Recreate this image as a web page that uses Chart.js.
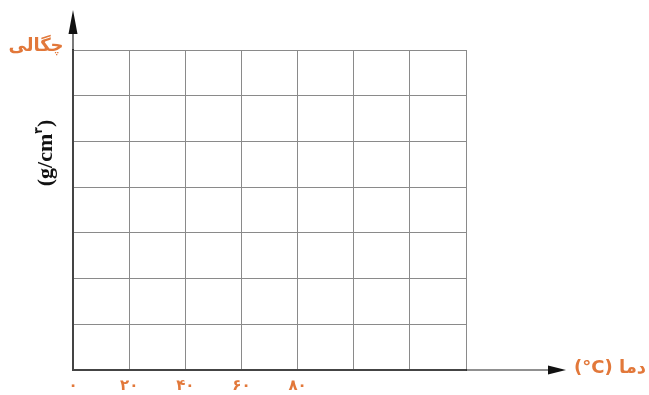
<!DOCTYPE html>
<html lang="fa">
<head>
    <meta charset="UTF-8">
    <title>Density vs temperature</title>
    <script src="https://cdn.jsdelivr.net/npm/chart.js@4.4.1/dist/chart.umd.min.js"></script>
    <style>
        html, body { margin: 0; padding: 0; background: #fff; }
        #wrap { width: 649px; height: 395px; }
    </style>
</head>
<body>
<div id="wrap">
    <canvas id="myChart" width="649" height="395"></canvas>
</div>
<script>
    // empty grid chart: only axes and labels
    var xLabelTicks = [0, 20, 40, 60, 80];
    var xMin = 0, xMax = 140, xStep = 20;
    var yMin = 0, yMax = 7, yStep = 1;
    var densityValues = [];   // no points plotted

    var orange = '#e2783a';
    var persianDigits = ['۰','۱','۲','۳','۴','۵','۶','۷','۸','۹'];
    function toFa(n) {
        return String(n).replace(/[0-9]/g, function (d) { return persianDigits[+d]; });
    }

    var axisArrows = {
        id: 'axisArrows',
        afterDraw: function (chart) {
            var c = chart.ctx, a = chart.chartArea;
            c.save();
            c.strokeStyle = '#222';
            c.fillStyle = '#111';
            c.lineWidth = 1.2;
            // x axis extension + arrow
            c.beginPath();
            c.moveTo(a.right, a.bottom);
            c.lineTo(550, a.bottom);
            c.stroke();
            c.beginPath();
            c.moveTo(566, a.bottom);
            c.lineTo(548, a.bottom - 4.5);
            c.lineTo(548, a.bottom + 4.5);
            c.closePath();
            c.fill();
            // y axis extension + arrow
            c.beginPath();
            c.moveTo(a.left, a.top);
            c.lineTo(a.left, 30);
            c.stroke();
            c.beginPath();
            c.moveTo(a.left, 10);
            c.lineTo(a.left - 4.5, 34);
            c.lineTo(a.left + 4.5, 34);
            c.closePath();
            c.fill();

            // axis titles
            c.fillStyle = orange;
            c.font = 'bold 18px "DejaVu Sans"';
            c.textBaseline = 'middle';
            c.textAlign = 'center';
            c.direction = 'rtl';
            c.fillText('چگالی', 36, 46);
            c.direction = 'ltr';
            c.fillText('(°C) دما', 610, 368);

            c.fillStyle = '#111';
            c.translate(46, 153);
            c.rotate(-Math.PI / 2);
            var big = 'bold 22px "Liberation Serif"', sup = 'bold 11px "DejaVu Sans"';
            var p1 = '(g/cm', p3 = ')';
            c.font = big;
            var w1 = c.measureText(p1).width;
            var w3 = c.measureText(p3).width;
            c.font = sup;
            var w2 = c.measureText('۳').width;
            var x0 = -(w1 + w2 + w3) / 2;
            c.textAlign = 'left';
            c.font = big;
            c.fillText(p1, x0, 0);
            c.fillText(p3, x0 + w1 + w2, 0);
            c.font = sup;
            c.fillText('۳', x0 + w1, -7);
            c.restore();
        }
    };

    var ctx = document.querySelector('#myChart').getContext('2d');
    new Chart(ctx, {
        type: 'scatter',
        data: {
            datasets: [{ label: 'density', data: densityValues }]
        },
        options: {
            responsive: false,
            animation: false,
            layout: { padding: { left: 73, top: 50, right: 183, bottom: 0 } },
            plugins: { legend: { display: false }, tooltip: { enabled: false } },
            scales: {
                x: {
                    type: 'linear',
                    min: xMin, max: xMax,
                    afterFit: function (s) { s.height = 25; },
                    grid: { color: '#8a8a8a', lineWidth: 1, drawTicks: false },
                    border: { color: '#444', width: 2 },
                    ticks: {
                        stepSize: xStep,
                        padding: 7,
                        maxRotation: 0,
                        color: orange,
                        font: { family: 'DejaVu Sans', size: 15, weight: 'bold' },
                        callback: function (v) {
                            return xLabelTicks.indexOf(v) >= 0 ? toFa(v) : '';
                        }
                    }
                },
                y: {
                    min: yMin, max: yMax,
                    afterFit: function (s) { s.width = 0; },
                    grid: { color: '#8a8a8a', lineWidth: 1, drawTicks: false },
                    border: { color: '#444', width: 2 },
                    ticks: { stepSize: yStep, display: false }
                }
            }
        },
        plugins: [axisArrows]
    });
</script>
</body>
</html>
